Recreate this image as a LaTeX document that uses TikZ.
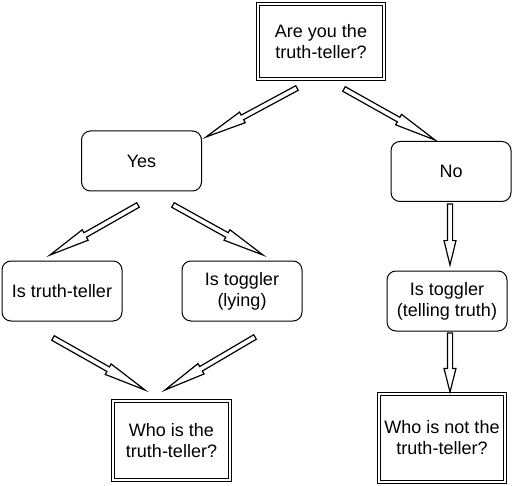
\documentclass[tikz,border=0pt]{standalone}
\usepackage{fontspec}
\setmainfont{Liberation Sans}
\usetikzlibrary{calc}
\newcommand\fatarrow[2]{%
  \coordinate (hb) at ($(#2)!0.4!(#1)$);
  \path[arrowline] ($(#1)!2.6pt!90:(#2)$) -- ($(hb)!2.6pt!-90:(#1)$) -- ($(hb)!6pt!-90:(#1)$) -- (#2)
     -- ($(hb)!6pt!90:(#1)$) -- ($(hb)!2.6pt!90:(#1)$) -- ($(#1)!2.6pt!-90:(#2)$) -- cycle;}
\begin{document}
\begin{tikzpicture}[x=1pt,y=-1pt,
  txt/.style={inner sep=0pt, align=center, font=\fontsize{18}{21}\selectfont},
  box/.style={txt, draw, line width=1pt, rounded corners=9pt, minimum width=120pt, minimum height=60pt},
  dbox/.style={txt, draw, line width=0.9pt, double, double distance=2pt},
  arrowline/.style={draw, line width=1.2pt, fill=white, line join=miter}]
\useasboundingbox (0,0) rectangle (513,486);
\node[dbox, minimum width=126pt, minimum height=75pt] (top) at (321,41.5) {Are you the\\truth-teller?};
\node[box] (yes) at (141.5,161) {Yes};
\node[box] (no) at (451,171.5) {No};
\node[box] (itt) at (62,291) {Is truth-teller};
\node[box] (tl) at (242,291) {Is toggler\\(lying)};
\node[box] (tt) at (447,301) {Is toggler\\(telling truth)};
\node[dbox, minimum width=117pt, minimum height=79pt] (who) at (171.5,440.5) {Who is the\\truth-teller?};
\node[dbox, minimum width=126pt, minimum height=88pt] (whonot) at (442,438) {Who is not the\\truth-teller?};
% arrow ends
\coordinate (a1s) at (297,88);  \coordinate (a1e) at (206,137);
\coordinate (a2s) at (344,89);  \coordinate (a2e) at (435,140);
\coordinate (a3s) at (138,205); \coordinate (a3e) at (50,255);
\coordinate (a4s) at (173,205); \coordinate (a4e) at (263,255);
\coordinate (a5s) at (450,204); \coordinate (a5e) at (450,265);
\coordinate (a6s) at (450,333); \coordinate (a6e) at (450,392);
\coordinate (a7s) at (53,338);  \coordinate (a7e) at (145,390);
\coordinate (a8s) at (255,337); \coordinate (a8e) at (165,390);
\fatarrow{a1s}{a1e}
\fatarrow{a2s}{a2e}
\fatarrow{a3s}{a3e}
\fatarrow{a4s}{a4e}
\fatarrow{a5s}{a5e}
\fatarrow{a6s}{a6e}
\fatarrow{a7s}{a7e}
\fatarrow{a8s}{a8e}
\end{tikzpicture}
\end{document}
